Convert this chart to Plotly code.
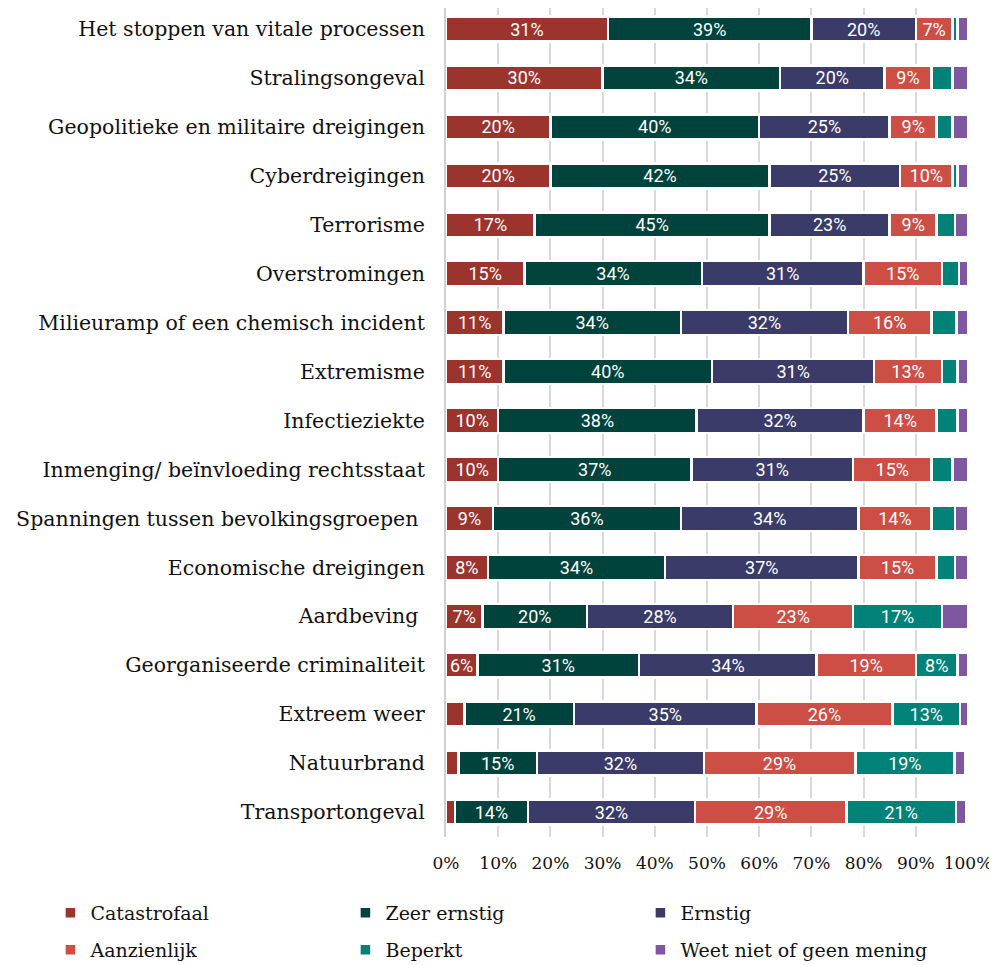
import plotly.graph_objects as go

# Dreigingen (van boven naar beneden)
categorieen = [
    "Het stoppen van vitale processen",
    "Stralingsongeval",
    "Geopolitieke en militaire dreigingen",
    "Cyberdreigingen",
    "Terrorisme",
    "Overstromingen",
    "Milieuramp of een chemisch incident",
    "Extremisme",
    "Infectieziekte",
    "Inmenging/ beïnvloeding rechtsstaat",
    "Spanningen tussen bevolkingsgroepen\u00a0",
    "Economische dreigingen",
    "Aardbeving\u00a0",
    "Georganiseerde criminaliteit",
    "Extreem weer",
    "Natuurbrand",
    "Transportongeval",
]

catastrofaal = [31, 30, 20, 20, 17, 15, 11, 11, 10, 10, 9, 8, 7, 6, 3.5, 2.4, 1.7]
zeer_ernstig = [39, 34, 40, 42, 45, 34, 34, 40, 38, 37, 36, 34, 20, 31, 21, 15, 14]
ernstig = [20, 20, 25, 25, 23, 31, 32, 31, 32, 31, 34, 37, 28, 34, 35, 32, 32]
aanzienlijk = [7, 9, 9, 10, 9, 15, 16, 13, 14, 15, 14, 15, 23, 19, 26, 29, 29]
beperkt = [1, 4, 3, 1, 3.5, 3.3, 4.8, 3, 4, 4, 4.5, 3.5, 17, 8, 13, 19, 21]
weet_niet = [2, 3, 3, 2, 2.5, 1.7, 2.2, 2, 2, 3, 2.5, 2.5, 5, 2, 1.5, 2, 2]

x_ticks = list(range(0, 101, 10))
x_ticklabels = [f"{t}%" for t in x_ticks]

reeksen = [
    ("Catastrofaal", catastrofaal, "#9B342D", "legend"),
    ("Zeer ernstig", zeer_ernstig, "#00433C", "legend"),
    ("Ernstig", ernstig, "#3A3B68", "legend"),
    ("Aanzienlijk", aanzienlijk, "#CC4E45", "legend2"),
    ("Beperkt", beperkt, "#008278", "legend2"),
    ("Weet niet of geen mening", weet_niet, "#7F56A0", "legend2"),
]

SERIF = "DejaVu Serif"

fig = go.Figure()
for naam, waarden, kleur, leg in reeksen:
    # alleen labels tonen bij segmenten die breed genoeg zijn
    teksten = [f"{v:.0f}%" if v >= 5.5 else "" for v in waarden]
    fig.add_trace(go.Bar(
        y=categorieen, x=waarden, name=naam, orientation="h",
        marker=dict(color=kleur, line=dict(color="white", width=2.5)),
        text=teksten, textposition="inside", insidetextanchor="middle",
        textangle=0, textfont=dict(family="Roboto", size=18, color="white"),
        legend=leg, hoverinfo="skip",
    ))

legenda_stijl = dict(
    orientation="h", xanchor="left", yanchor="middle", traceorder="normal",
    font=dict(family=SERIF, size=19, color="#111"),
    entrywidth=250, itemwidth=30, bgcolor="rgba(0,0,0,0)",
)

# de pagina heeft 8px body-marge, daarom iets kleinere figuur
fig.update_layout(
    barmode="stack",
    bargap=0.49,
    width=989, height=957,
    margin=dict(l=438, r=29, t=0, b=128, autoexpand=False),
    plot_bgcolor="white", paper_bgcolor="white",
    uniformtext=dict(minsize=18, mode="show"),
    legend=dict(x=-0.7578, y=-0.0917, **legenda_stijl),
    legend2=dict(x=-0.7578, y=-0.1363, **legenda_stijl),
    xaxis=dict(
        range=[0, 100], tickvals=x_ticks, ticktext=x_ticklabels,
        showgrid=True, gridcolor="#D9D9D9", gridwidth=2,
        zeroline=False, showline=False, ticklabelstandoff=14,
        tickfont=dict(family=SERIF, size=17, color="#111"),
        fixedrange=True,
    ),
    yaxis=dict(
        range=[16.51, -0.429], showgrid=False, zeroline=False,
        showline=True, linecolor="#D0D0D0", linewidth=2,
        ticks="", ticklabelstandoff=15,
        tickfont=dict(family=SERIF, size=20.5, color="#111"),
    ),
)

fig.write_html("out.html")
